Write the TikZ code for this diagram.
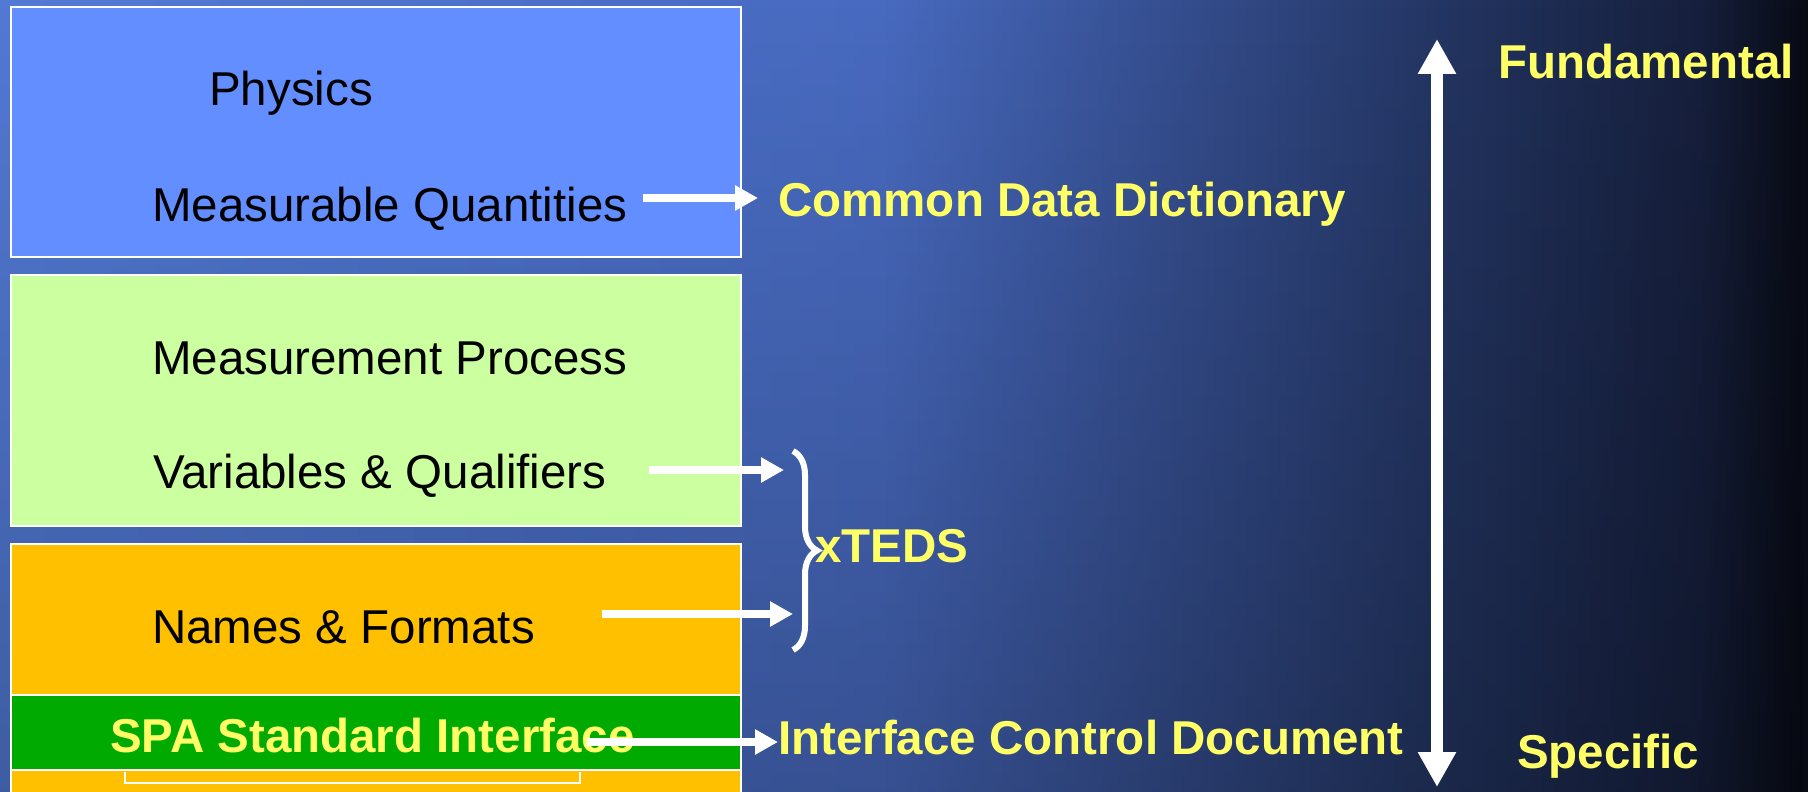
\documentclass[tikz,border=0pt]{standalone}
\usepackage{fontspec}
\setmainfont{Liberation Sans}
\usetikzlibrary{arrows.meta, positioning, decorations.pathreplacing, fadings}

\definecolor{bg_light}{RGB}{82,122,212}
\definecolor{bg_mid}{RGB}{72,106,192}
\definecolor{bg_deep}{RGB}{36,54,100}
\definecolor{bg_darker}{RGB}{22,31,60}
\definecolor{bg_black}{RGB}{8,11,20}
\definecolor{phys_blue}{RGB}{98,142,255}
\definecolor{meas_green}{RGB}{204,255,160}
\definecolor{names_orange}{RGB}{255,192,0}
\definecolor{spa_green}{RGB}{0,170,0}
\definecolor{label_yellow}{RGB}{255,255,102}

\begin{document}
\begin{tikzpicture}[x=1pt, y=-1pt]
% Styles for the layers and the labels
\tikzstyle{layer_box} = [rectangle, draw=white, line width=2pt, minimum width=730pt, anchor=north west, inner sep=0pt]
\tikzstyle{layer_text} = [anchor=base west, inner sep=0pt, text=black, font=\fontsize{47.5}{57}\selectfont]
\tikzstyle{label_text} = [anchor=base west, inner sep=0pt, text=label_yellow, font=\fontsize{47.5}{57}\selectfont\bfseries]
\tikzstyle{arrow} = [white, line width=8pt, -{Triangle[length=23pt,width=24pt]}]
\tikzstyle{scale_arrow} = [white, line width=12pt, {Triangle[length=35pt,width=36pt]}-{Triangle[length=35pt,width=36pt]}]

% Background
\useasboundingbox (0,0) rectangle (1808,792);
\shade [left color=bg_light, right color=bg_mid] (0,0) rectangle (881,792);
\shade [left color=bg_mid, right color=bg_deep] (880,0) rectangle (1431,792);
\shade [left color=bg_deep, right color=bg_darker] (1430,0) rectangle (1701,792);
\shade [left color=bg_darker, right color=bg_black] (1700,0) rectangle (1808,792);
\fill [black, opacity=0.24, path fading=north] (0,0) rectangle (1808,792);

% Layer boxes
\node (phys_box) [layer_box, fill=phys_blue, minimum height=250pt] at (10,6) {};
\node (meas_box) [layer_box, fill=meas_green, minimum height=251pt] at (10,274) {};
\node (names_box) [layer_box, fill=names_orange, minimum height=280pt] at (10,543) {};
\node (spa_box) [layer_box, fill=spa_green, minimum height=75pt] at (10,694) {};
\draw [white, line width=2pt] (125,772) -- (125,783) -- (580,783) -- (580,772);

% Texts in the layers
\node (physics) [layer_text] at (209,105) {Physics};
\node (meas_qty) [layer_text] at (152,221) {Measurable Quantities};
\node (meas_proc) [layer_text] at (152,374) {Measurement Process};
\node (var_qual) [layer_text] at (153,488) {Variables \& Qualifiers};
\node (names_fmt) [layer_text] at (152,643) {Names \& Formats};
\node (spa) [label_text] at (110,752) {SPA Standard Interface};

% Labels on the right
\node (cdd) [label_text] at (778,216) {Common Data Dictionary};
\node (xteds) [label_text] at (815,562) {xTEDS};
\node (icd) [label_text] at (778,754) {Interface Control Document};
\node (fundamental) [label_text] at (1498,79) {Fundamental};
\node (specific) [label_text] at (1517,768) {Specific};

% Arrows
\coordinate (meas_qty_out) at (643,198);
\coordinate (var_qual_out) at (649,470);
\coordinate (names_fmt_out) at (602,614);
\coordinate (spa_out) at (587,742);
\coordinate (brace_top) at (793,451);
\coordinate (brace_bot) at (793,650);
\coordinate (top_tip) at (1437,39);
\coordinate (bot_tip) at (1437,787);

\draw [arrow, shorten >=20pt] (meas_qty_out) -- (meas_qty_out -| cdd.west);
\draw [arrow, shorten >=9pt] (var_qual_out) -- (var_qual_out -| brace_top);
\draw [arrow] (names_fmt_out) -- (names_fmt_out -| brace_top);
\draw [arrow] (spa_out) -- (spa_out -| icd.west);
\draw [white, line width=6pt, decorate, decoration={brace, amplitude=24pt}] (brace_top) -- (brace_bot);
\draw [scale_arrow] (top_tip) -- (bot_tip);
\end{tikzpicture}
\end{document}
